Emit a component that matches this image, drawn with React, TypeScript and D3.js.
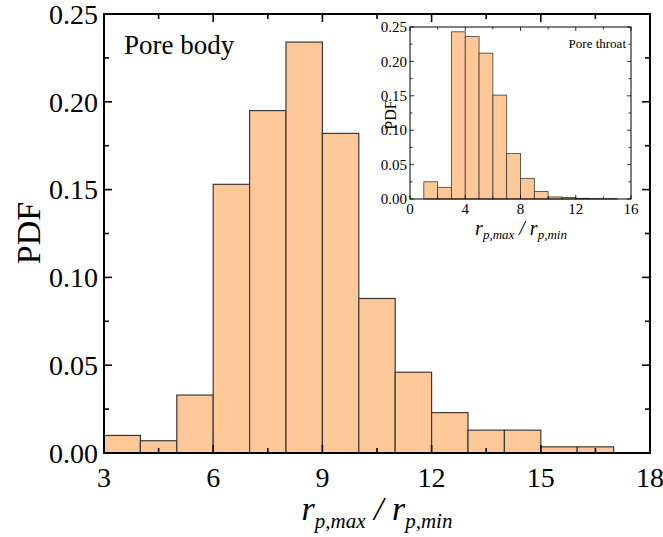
import React from "react";
import * as d3 from "d3";

const bodyBinStart = [3, 4, 5, 6, 7, 8, 9, 10, 11, 12, 13, 14, 15, 16];
const bodyPdf = [0.01, 0.007, 0.033, 0.153, 0.195, 0.234, 0.182, 0.088, 0.046, 0.023, 0.013, 0.013, 0.0035, 0.0035];
const throatBinStart = [1, 2, 3, 4, 5, 6, 7, 8, 9, 10, 11, 12, 13, 14];
const throatPdf = [0.025, 0.017, 0.243, 0.236, 0.212, 0.151, 0.066, 0.03, 0.011, 0.003, 0.002, 0.001, 0.0005, 0.0005];
const mainXTicks = [3, 6, 9, 12, 15, 18];
const mainYTicks = [0, 0.05, 0.1, 0.15, 0.2, 0.25];
const insetXTicks = [0, 4, 8, 12, 16];
const insetYTicks = [0, 0.05, 0.1, 0.15, 0.2, 0.25];

const FILL = "#FFC899";
const BAR_STROKE = "#3a3a3a";
const FONT = "'Liberation Serif', 'Times New Roman', serif";

type PanelProps = {
  x0: number; x1: number; y0: number; y1: number;
  xDomain: [number, number]; yDomain: [number, number];
  bins: number[]; vals: number[];
  xTicks: number[]; yTicks: number[];
  xMinorStep: number; yMinorStep: number;
  majorLen: number; minorLen: number;
  tickFont: number; axisW: number; barW: number;
  xLabelDy: number; yLabelDx: number;
};

function Panel(p: PanelProps) {
  const x = d3.scaleLinear().domain(p.xDomain).range([p.x0, p.x1]);
  const y = d3.scaleLinear().domain(p.yDomain).range([p.y1, p.y0]);
  const xMinor = d3.range(p.xDomain[0], p.xDomain[1] + 1e-9, p.xMinorStep);
  const yMinor = d3.range(p.yDomain[0], p.yDomain[1] + 1e-9, p.yMinorStep);
  const isMajor = (v: number, arr: number[]) => arr.some((a) => Math.abs(a - v) < 1e-9);
  return (
    <g>
      {p.bins.map((b, i) => (
        <rect key={i} x={x(b)} y={y(p.vals[i])} width={x(b + 1) - x(b)} height={y(0) - y(p.vals[i])}
          fill={FILL} stroke={BAR_STROKE} strokeWidth={p.barW} />
      ))}
      {xMinor.map((v, i) => {
        const len = isMajor(v, p.xTicks) ? p.majorLen : p.minorLen;
        return (
          <g key={"xt" + i}>
            <line x1={x(v)} x2={x(v)} y1={p.y1} y2={p.y1 - len} stroke="#000" strokeWidth={p.axisW * 0.8} />
            <line x1={x(v)} x2={x(v)} y1={p.y0} y2={p.y0 + len} stroke="#000" strokeWidth={p.axisW * 0.8} />
          </g>
        );
      })}
      {yMinor.map((v, i) => {
        const len = isMajor(v, p.yTicks) ? p.majorLen : p.minorLen;
        return (
          <g key={"yt" + i}>
            <line x1={p.x0} x2={p.x0 + len} y1={y(v)} y2={y(v)} stroke="#000" strokeWidth={p.axisW * 0.8} />
            <line x1={p.x1} x2={p.x1 - len} y1={y(v)} y2={y(v)} stroke="#000" strokeWidth={p.axisW * 0.8} />
          </g>
        );
      })}
      <rect x={p.x0} y={p.y0} width={p.x1 - p.x0} height={p.y1 - p.y0} fill="none" stroke="#000" strokeWidth={p.axisW} />
      {p.xTicks.map((v) => (
        <text key={"xl" + v} x={x(v)} y={p.y1 + p.xLabelDy} textAnchor="middle" fontFamily={FONT} fontSize={p.tickFont}>{v}</text>
      ))}
      {p.yTicks.map((v) => (
        <text key={"yl" + v} x={p.x0 - p.yLabelDx} y={y(v)} dy="0.35em" textAnchor="end" fontFamily={FONT} fontSize={p.tickFont}>{v.toFixed(2)}</text>
      ))}
    </g>
  );
}

export default function App() {
  return (
    <svg width={663} height={537} style={{ display: "block", position: "absolute", left: 0, top: 0 }}>
      <rect width={663} height={537} fill="#fff" />
      <Panel x0={104} x1={650} y0={14} y1={453} xDomain={[3, 18]} yDomain={[0, 0.25]}
        bins={bodyBinStart} vals={bodyPdf} xTicks={mainXTicks} yTicks={mainYTicks}
        xMinorStep={1.5} yMinorStep={0.025} majorLen={8} minorLen={5}
        tickFont={28} axisW={2} barW={1.2} xLabelDy={34} yLabelDx={6} />
      <text x={124} y={54} fontFamily={FONT} fontSize={27}>Pore body</text>
      <text transform="translate(40,233) rotate(-90)" textAnchor="middle" fontFamily={FONT} fontSize={34}>PDF</text>
      <text x={377} y={520} textAnchor="middle" fontFamily={FONT} fontStyle="italic" fontSize={34}>
        r<tspan fontSize={21} dy={8}>p,max</tspan><tspan dy={-8}> / r</tspan><tspan fontSize={21} dy={8}>p,min</tspan>
      </text>

      <rect x={410} y={27} width={221} height={172} fill="#fff" />
      <Panel x0={410} x1={631} y0={27} y1={199} xDomain={[0, 16]} yDomain={[0, 0.25]}
        bins={throatBinStart} vals={throatPdf} xTicks={insetXTicks} yTicks={insetYTicks}
        xMinorStep={2} yMinorStep={0.025} majorLen={4} minorLen={2.5}
        tickFont={15} axisW={1} barW={0.8} xLabelDy={15} yLabelDx={3} />
      <text x={626} y={48} textAnchor="end" fontFamily={FONT} fontSize={13}>Pore throat</text>
      <text transform="translate(396,115) rotate(-90)" textAnchor="middle" fontFamily={FONT} fontSize={16}>PDF</text>
      <text x={521} y={235} textAnchor="middle" fontFamily={FONT} fontStyle="italic" fontSize={20}>
        r<tspan fontSize={13} dy={4}>p,max</tspan><tspan dy={-4}> / r</tspan><tspan fontSize={13} dy={4}>p,min</tspan>
      </text>
    </svg>
  );
}
